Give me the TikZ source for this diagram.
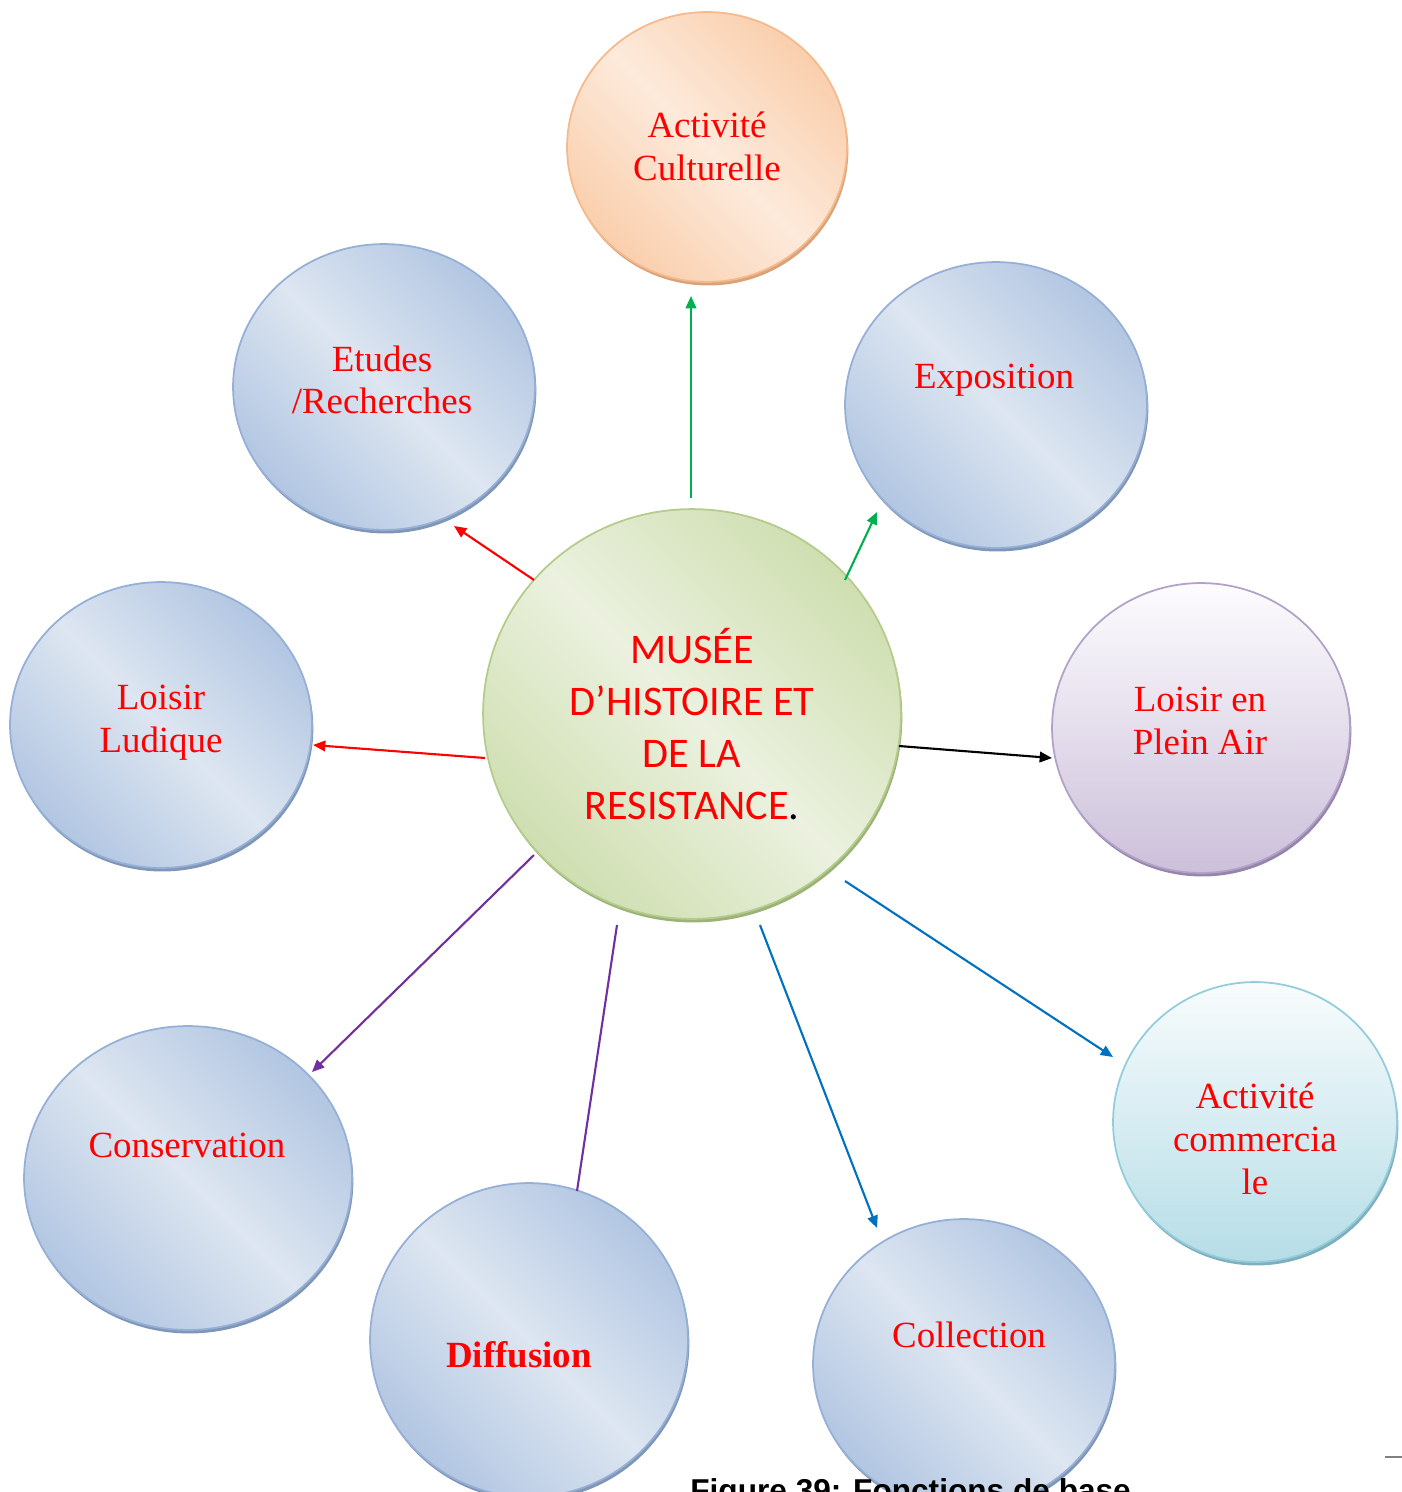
\documentclass[tikz,border=0pt]{standalone}
\usepackage{fontspec}
\setmainfont{Liberation Serif}
\newfontfamily\calib{Carlito}
\newfontfamily\arialf{Liberation Sans}
\usetikzlibrary{shapes.geometric,arrows.meta,shadows}

% palette
\definecolor{bdk}{HTML}{A6BDDE}
\definecolor{blt}{HTML}{DDE6F1}
\definecolor{bbd}{HTML}{95AFD6}
\definecolor{bsh}{HTML}{8096B6}
\definecolor{odk}{HTML}{F9C7A0}
\definecolor{olt}{HTML}{FDEADB}
\definecolor{obd}{HTML}{F5B98C}
\definecolor{osh}{HTML}{D9A278}
\definecolor{gdk}{HTML}{C7DAA4}
\definecolor{glt}{HTML}{EBF1DF}
\definecolor{gbd}{HTML}{B5CB8C}
\definecolor{gsh}{HTML}{9CB377}
\definecolor{ptop}{HTML}{FDFCFE}
\definecolor{pbot}{HTML}{CCC0DA}
\definecolor{pbd}{HTML}{B3A2C7}
\definecolor{psh}{HTML}{9585AD}
\definecolor{ctop}{HTML}{F8FCFD}
\definecolor{cbot}{HTML}{B6DDE7}
\definecolor{cbd}{HTML}{93CDDD}
\definecolor{csh}{HTML}{7FAEBC}
\definecolor{lgreen}{HTML}{00B050}
\definecolor{lblue}{HTML}{0070C0}
\definecolor{lpurple}{HTML}{7030A0}
\definecolor{lred}{HTML}{FF0000}

% diagonal fills: dark at two opposite corners, light through the middle
\pgfdeclareverticalshading{bluediag}{100bp}{color(0bp)=(bdk); color(18bp)=(bdk); color(50bp)=(blt); color(82bp)=(bdk); color(100bp)=(bdk)}
\pgfdeclareverticalshading{orangediag}{100bp}{color(0bp)=(odk); color(18bp)=(odk); color(50bp)=(olt); color(82bp)=(odk); color(100bp)=(odk)}
\pgfdeclareverticalshading{greendiag}{100bp}{color(0bp)=(gdk); color(18bp)=(gdk); color(50bp)=(glt); color(82bp)=(gdk); color(100bp)=(gdk)}

\tikzset{
  bubble/.style args={#1/#2}{ellipse, inner sep=0pt,
    minimum width=#1*0.04cm, minimum height=#2*0.04cm},
  bluebub/.style={bubble=#1, shade, shading=bluediag, shading angle=-45,
    draw=bbd, line width=1pt,
    general shadow={fill=bsh, shadow xshift=0.8pt, shadow yshift=-2pt}},
  orangebub/.style={bubble=#1, shade, shading=orangediag, shading angle=-45,
    draw=obd, line width=1pt,
    general shadow={fill=osh, shadow xshift=0.8pt, shadow yshift=-2pt}},
  greenbub/.style={bubble=#1, shade, shading=greendiag, shading angle=-45,
    draw=gbd, line width=1pt,
    general shadow={fill=gsh, shadow xshift=0.8pt, shadow yshift=-2pt}},
  purplebub/.style={bubble=#1, top color=ptop, bottom color=pbot,
    draw=pbd, line width=1pt,
    general shadow={fill=psh, shadow xshift=0.8pt, shadow yshift=-2pt}},
  cyanbub/.style={bubble=#1, top color=ctop, bottom color=cbot,
    draw=cbd, line width=1pt,
    general shadow={fill=csh, shadow xshift=0.8pt, shadow yshift=-2pt}},
  lbl/.style={text=lred, align=center, inner sep=0pt,
    font=\fontsize{21}{24.3}\selectfont},
  hublbl/.style={text=lred, align=center, inner sep=0pt,
    font=\calib\fontsize{24}{29.6}\selectfont},
  link/.style={line width=1.2pt, -{Triangle[length=7pt,width=6pt]}},
}

\begin{document}
\begin{tikzpicture}[x=0.02cm, y=-0.02cm]
\useasboundingbox (0,0) rectangle (1402,1492);

% satellite bubbles
\node[orangebub=140/135] (cult) at (707,147) {};
\node[bluebub=151/143]   (etud) at (384,387) {};
\node[bluebub=151/143]   (expo) at (996,405) {};
\node[bluebub=151/143]   (ludi) at (161,725) {};
\node[purplebub=149/145] (plein) at (1201,728) {};
\node[cyanbub=142/140]   (comm) at (1255,1122) {};
\node[bluebub=164/152]   (cons) at (188,1178) {};
\node[bluebub=159/157]   (diff) at (529,1340) {};
\node[bluebub=151/145]   (coll) at (964,1364) {};

% central bubble
\node[greenbub=209/205] (hub) at (692,714) {};

% labels
\node[lbl] (cult-t)  at (707,146)  {Activité\\Culturelle};
\node[lbl] (etud-t)  at (382,380)  {Etudes\\/Recherches};
\node[lbl] (expo-t)  at (994,380)  {Exposition};
\node[lbl] (ludi-t)  at (161,723)  {Loisir\\Ludique};
\node[lbl] (plein-t) at (1200,721) {Loisir en\\Plein Air};
\node[lbl] (comm-t)  at (1255,1139) {Activité\\commercia\\le};
\node[lbl] (cons-t)  at (187,1145) {Conservation};
\node[lbl, font=\bfseries\fontsize{21}{24.3}\selectfont] (diff-t) at (519,1355) {Diffusion};
\node[lbl] (coll-t)  at (969,1335) {Collection};
\node[hublbl] (hub-t) at (692,724)
  {MUSÉE\\D’HISTOIRE ET\\DE LA\\RESISTANCE\textcolor{black}{.}};

% connector end points
\coordinate (a1) at (691,498);  \coordinate (b1) at (691,296);
\coordinate (a2) at (845,580);  \coordinate (b2) at (877,512);
\coordinate (a3) at (534,580);  \coordinate (b3) at (454,526);
\coordinate (a4) at (485,758);  \coordinate (b4) at (313,745);
\coordinate (a5) at (899,746);  \coordinate (b5) at (1052,758);
\coordinate (a6) at (845,881);  \coordinate (b6) at (1113,1057);
\coordinate (a7) at (760,925);  \coordinate (b7) at (877,1228);
\coordinate (a8) at (617,925);  \coordinate (b8) at (577,1191);
\coordinate (a9) at (534,855);  \coordinate (b9) at (312,1072);

\draw[link, lgreen]  (a1) -- (b1);
\draw[link, lgreen]  (a2) -- (b2);
\draw[link, lred]    (a3) -- (b3);
\draw[link, lred]    (a4) -- (b4);
\draw[link, black]   (a5) -- (b5);
\draw[link, lblue]   (a6) -- (b6);
\draw[link, lblue]   (a7) -- (b7);
\draw[line width=1.2pt, lpurple] (a8) -- (b8);
\draw[link, lpurple] (a9) -- (b9);

% caption, running past the lower page edge
\node[anchor=base west, inner sep=0pt, font=\arialf\bfseries\fontsize{18}{21}\selectfont]
  (cap) at (690,1501) {Figure 39: Fonctions de base};
\coordinate (m1) at (1385,1457); \coordinate (m2) at (1402,1457);
\draw[gray, line width=0.8pt] (m1) -- (m2);
\end{tikzpicture}
\end{document}
